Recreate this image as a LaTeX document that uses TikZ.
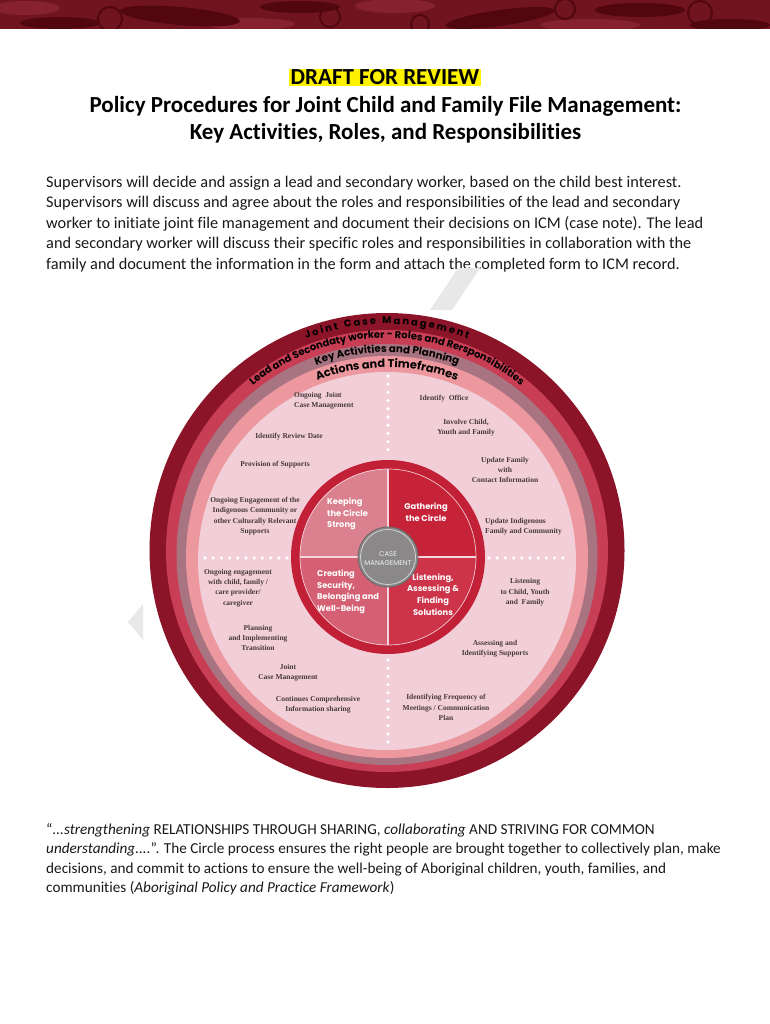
\documentclass[tikz,border=0pt]{standalone}
\usepackage{fontspec}
\setmainfont{Carlito}[Ligatures=NoCommon]
\newfontfamily\poppins{Poppins}
\newfontfamily\itemserif{Liberation Serif}
\usepackage{tikz}
\usetikzlibrary{positioning,decorations.text,calc}
\usepackage{xcolor}

\definecolor{bannerred}{RGB}{112,20,32}
\definecolor{bannerdark}{RGB}{82,6,14}
\definecolor{bannerlight}{RGB}{134,34,48}
\definecolor{ringdark}{RGB}{139,20,40}
\definecolor{ringred}{RGB}{200,62,84}
\definecolor{ringmauve}{RGB}{168,116,130}
\definecolor{ringsalmon}{RGB}{236,152,158}
\definecolor{ringpink}{RGB}{241,206,216}
\definecolor{hubring}{RGB}{194,32,55}
\definecolor{quadkeep}{RGB}{219,128,143}
\definecolor{quadgather}{RGB}{198,34,56}
\definecolor{quadcreate}{RGB}{213,96,116}
\definecolor{quadlisten}{RGB}{205,52,74}
\definecolor{hubgrey}{RGB}{138,136,137}
\definecolor{crossline}{RGB}{246,214,222}
\definecolor{itemtext}{RGB}{72,56,60}
\definecolor{wmgrey}{RGB}{232,232,232}

\newcommand{\arcfont}[1]{\poppins\bfseries\fontsize{#1}{#1}\selectfont}

\begin{document}
\begin{tikzpicture}[x=1pt, y=-1pt,
    item/.style={font=\itemserif\bfseries\fontsize{7.5}{10.4}\selectfont, text=itemtext, align=#1, inner sep=0pt},
    item/.default={center},
    quad/.style={font=\poppins\bfseries\fontsize{8.3}{11.6}\selectfont, text=white, align=#1, inner sep=0pt},
    quad/.default={center},
    ringtext/.style={decorate, decoration={text along path, text align=center, text={#1}}},
    dots/.style={white, line width=3.6pt, line cap=round, dash pattern=on 0pt off 8.2pt},
    bodytext/.style={font=\fontsize{16.3}{20.4}\selectfont, align=left, inner sep=0pt, anchor=north west, text=black!90},
]
\useasboundingbox (0,0) rectangle (770,1024);

% ===== BANNER =====
\begin{scope}
\clip (0,0) rectangle (770,29);
\fill[bannerred] (0,0) rectangle (770,29);
\fill[bannerlight] (25,8) ellipse[x radius=35, y radius=7];
\fill[bannerlight] (250,24) ellipse[x radius=45, y radius=6];
\fill[bannerlight] (395,6) ellipse[x radius=40, y radius=7];
\fill[bannerlight] (590,25) ellipse[x radius=50, y radius=6];
\fill[bannerdark] (60,23) ellipse[x radius=40, y radius=6];
\fill[bannerdark, rotate around={-5:(180,16)}] (180,16) ellipse[x radius=60, y radius=9];
\fill[bannerdark] (300,7) ellipse[x radius=40, y radius=6];
\fill[bannerdark, rotate around={8:(500,18)}] (500,18) ellipse[x radius=55, y radius=8];
\fill[bannerdark] (640,10) ellipse[x radius=45, y radius=7];
\fill[bannerdark] (730,25) ellipse[x radius=40, y radius=6];
\draw[bannerdark, line width=2pt] (110,19) circle[radius=12] (330,17) circle[radius=10]
    (565,9) circle[radius=10] (700,13) circle[radius=12] (420,24) circle[radius=9];
\end{scope}

% ===== HEADER =====
\node[fill=yellow, inner xsep=1.5pt, inner ysep=0.5pt, font=\bfseries\fontsize{23}{25}\selectfont] (draft) at (385,77.5) {DRAFT FOR REVIEW};
\node[font=\bfseries\fontsize{23}{27}\selectfont, align=center] (title) at (385.5,120) {Policy Procedures for Joint Child and Family File Management:\\Key Activities, Roles, and Responsibilities};

\node[bodytext] (intro) at (46,176) {Supervisors will decide and assign a lead and secondary worker, based on the child best interest.\\
Supervisors will discuss and agree about the roles and responsibilities of the lead and secondary\\
worker to initiate joint file management and document their decisions on ICM (case note). The lead\\
and secondary worker will discuss their specific roles and responsibilities in collaboration with the\\
family and document the information in the form and attach the completed form to ICM record.};

% ===== WATERMARK =====
\fill[wmgrey] (458,268) -- (480,268) -- (452,310) -- (430,310) -- cycle;
\fill[wmgrey] (128,622) -- (143,604) -- (143,640) -- cycle;

% ===== RINGS =====
\coordinate (c1) at (387,550.5);
\coordinate (c2) at (387,551);
\coordinate (c3) at (387,554.5);
\coordinate (c4) at (387,557);
\coordinate (c5) at (387,561);
\fill[ringdark] (c1) circle[radius=237.5];
\fill[ringred] (c2) circle[radius=221];
\fill[ringmauve] (c3) circle[radius=210.5];
\fill[ringsalmon] (c4) circle[radius=201];
\fill[ringpink] (c5) circle[radius=189];

\path[ringtext={|\arcfont{9.8}|J o i n t {\ } C a s e {\ } M a n a g e m e n t}] ($(c1)+(200:226.5)$) arc[start angle=200, end angle=340, radius=226.5];
\path[ringtext={|\arcfont{10}|Lead and Secondaty worker - Roles and Rersponsibilities}] ($(c2)+(200:213)$) arc[start angle=200, end angle=340, radius=213];
\path[ringtext={|\arcfont{10.3}|Key Activities and Planning}] ($(c3)+(200:202)$) arc[start angle=200, end angle=340, radius=202];
\path[ringtext={|\arcfont{11.3}|Actions and Timeframes}] ($(c4)+(200:189.5)$) arc[start angle=200, end angle=340, radius=189.5];

\draw[dots] (388,376) -- (388,455);
\draw[dots] (388,660) -- (388,748);
\draw[dots] (205,558) -- (288,558);
\draw[dots] (489,558) -- (565,558);

% ===== HUB =====
\coordinate (hub) at (388,557);
\fill[hubring] (hub) circle[radius=97];
\fill[quadkeep] (hub) -- ++(180:88) arc[start angle=180, end angle=270, radius=88] -- cycle;
\fill[quadgather] (hub) -- ++(270:88) arc[start angle=270, end angle=360, radius=88] -- cycle;
\fill[quadlisten] (hub) -- ++(0:88) arc[start angle=0, end angle=90, radius=88] -- cycle;
\fill[quadcreate] (hub) -- ++(90:88) arc[start angle=90, end angle=180, radius=88] -- cycle;
\draw[white, opacity=0.75, line width=0.7pt] (hub) circle[radius=88];
\draw[crossline, line width=2.6pt] ($(hub)+(-88,0)$) -- ($(hub)+(88,0)$);
\draw[crossline, line width=2.6pt] ($(hub)+(0,-88)$) -- ($(hub)+(0,88)$);
\fill[hubgrey] (hub) circle[radius=30];
\draw[hubgrey!75!black, line width=0.8pt] (hub) circle[radius=30];
\draw[white!70!hubgrey, line width=0.7pt] (hub) circle[radius=27.5];
\node[font=\poppins\fontsize{6.9}{9}\selectfont, text=white!88!hubgrey, align=center, inner sep=0pt] (casemgmt) at (388,558.5) {CASE\\MANAGEMENT};

\node[quad=left, anchor=west] (keeping) at (327,514) {Keeping\\the Circle\\Strong};
\node[quad] (gathering) at (426,512.5) {Gathering\\the Circle};
\node[quad=left, anchor=west] (creating) at (317,592) {Creating\\Security,\\Belonging and\\Well-Being};
\node[quad] (listening) at (433,594.5) {Listening,\\Assessing \&\\Finding\\Solutions};

% ===== ACTIVITIES =====
\node[item=left, anchor=west] (ongoingjoint) at (294,401) {Ongoing\ \ Joint\\Case Management};
\node[item] (reviewdate) at (289,437) {Identify Review Date};
\node[item] (provision) at (275,465) {Provision of Supports};
\node[item] (indigenous) at (255,516) {Ongoing Engagement of the\\Indigenous Community or\\other Culturally Relevant\\Supports};
\node[item] (office) at (444,399) {Identify\ \ Office};
\node[item] (involve) at (466,428) {Involve Child,\\Youth and Family};
\node[item] (contact) at (505,470) {Update Family\\with\\Contact Information};
\node[item=left, anchor=west] (updateindig) at (485,527) {Update Indigenous\\Family and Community};
\node[item] (engagement) at (238,588) {Ongoing engagement\\with child, family /\\care provider/\\caregiver};
\node[item] (transition) at (258,638) {Planning\\and Implementing\\Transition};
\node[item] (jointcase) at (288,673) {Joint\\Case Management};
\node[item] (sharing) at (318,705) {Continues Comprehensive\\Information sharing};
\node[item] (listenchild) at (525,592.5) {Listening\\to Child, Youth\\and\ \ Family};
\node[item] (assessing) at (495,649) {Assessing and\\Identifying Supports};
\node[item] (frequency) at (446,707.5) {Identifying Frequency of\\Meetings / Communication\\Plan};

% ===== QUOTE =====
\node[bodytext, font=\fontsize{15.2}{19.5}\selectfont] (quote) at (46,823) {“\textit{...strengthening} RELATIONSHIPS THROUGH SHARING, \textit{collaborating} AND STRIVING FOR COMMON\\
\textit{understanding....}”. The Circle process ensures the right people are brought together to collectively plan, make\\
decisions, and commit to actions to ensure the well-being of Aboriginal children, youth, families, and\\
communities (\textit{Aboriginal Policy and Practice Framework})};

\end{tikzpicture}
\end{document}
